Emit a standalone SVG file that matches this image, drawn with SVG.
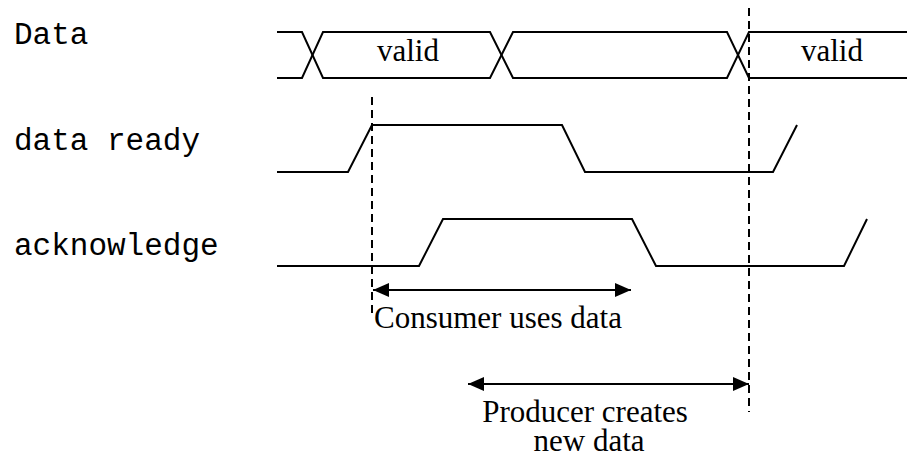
<svg xmlns="http://www.w3.org/2000/svg" width="907" height="463" viewBox="0 0 907 463">
  <style>
    .wave { fill: none; stroke: #000; stroke-width: 2; stroke-linejoin: miter; }
    .marker-line { fill: none; stroke: #000; stroke-width: 2; stroke-dasharray: 8 5; }
    .span { fill: none; stroke: #000; stroke-width: 2; }
    .sig { font-family: "Liberation Mono", "Courier New", monospace; font-size: 31px; fill: #000; }
    .note { font-family: "Liberation Serif", "Times New Roman", serif; font-size: 31px; fill: #000; }
  </style>
  <defs>
    <marker id="head" viewBox="0 0 16 14" refX="16" refY="7" markerWidth="16" markerHeight="14" markerUnits="userSpaceOnUse" orient="auto-start-reverse">
      <path d="M0,0 L16,7 L0,14 Z" fill="#000"/>
    </marker>
  </defs>

  <rect width="907" height="463" fill="#fff"/>

  <!-- signal names -->
  <g id="label-data"><text class="sig" x="14" y="44">Data</text></g>
  <g id="label-ready"><text class="sig" x="14" y="150">data ready</text></g>
  <g id="label-ack"><text class="sig" x="14" y="255">acknowledge</text></g>

  <!-- data bus -->
  <g id="data-bus">
    <path class="wave" d="M277,32 H302 L323,78 H490 L513,32 H727 L749,78 H907"/>
    <path class="wave" d="M277,78 H302 L323,32 H490 L513,78 H727 L749,32 H907"/>
    <text class="note" x="408" y="61" text-anchor="middle">valid</text>
    <text class="note" x="832" y="61" text-anchor="middle">valid</text>
  </g>

  <!-- data ready -->
  <g id="data-ready">
    <path class="wave" d="M277,172 H348 L372,125 H562 L585,172 H773 L797,125"/>
  </g>

  <!-- acknowledge -->
  <g id="acknowledge">
    <path class="wave" d="M277,266 H419 L443,219 H632 L656,266 H844 L867,219"/>
  </g>

  <!-- timing markers and spans -->
  <g id="connectors">
    <line class="marker-line" x1="372" y1="97" x2="372" y2="313"/>
    <line class="marker-line" x1="749" y1="8" x2="749" y2="412"/>
    <line class="span" x1="373" y1="290" x2="631" y2="290" marker-start="url(#head)" marker-end="url(#head)"/>
    <line class="span" x1="468" y1="384" x2="749" y2="384" marker-start="url(#head)" marker-end="url(#head)"/>
  </g>

  <g id="span-consumer"><text class="note" x="374" y="328">Consumer uses data</text></g>
  <g id="span-producer">
    <text class="note" x="585" y="422" text-anchor="middle">Producer creates</text>
    <text class="note" x="589" y="451" text-anchor="middle">new data</text>
  </g>
</svg>
